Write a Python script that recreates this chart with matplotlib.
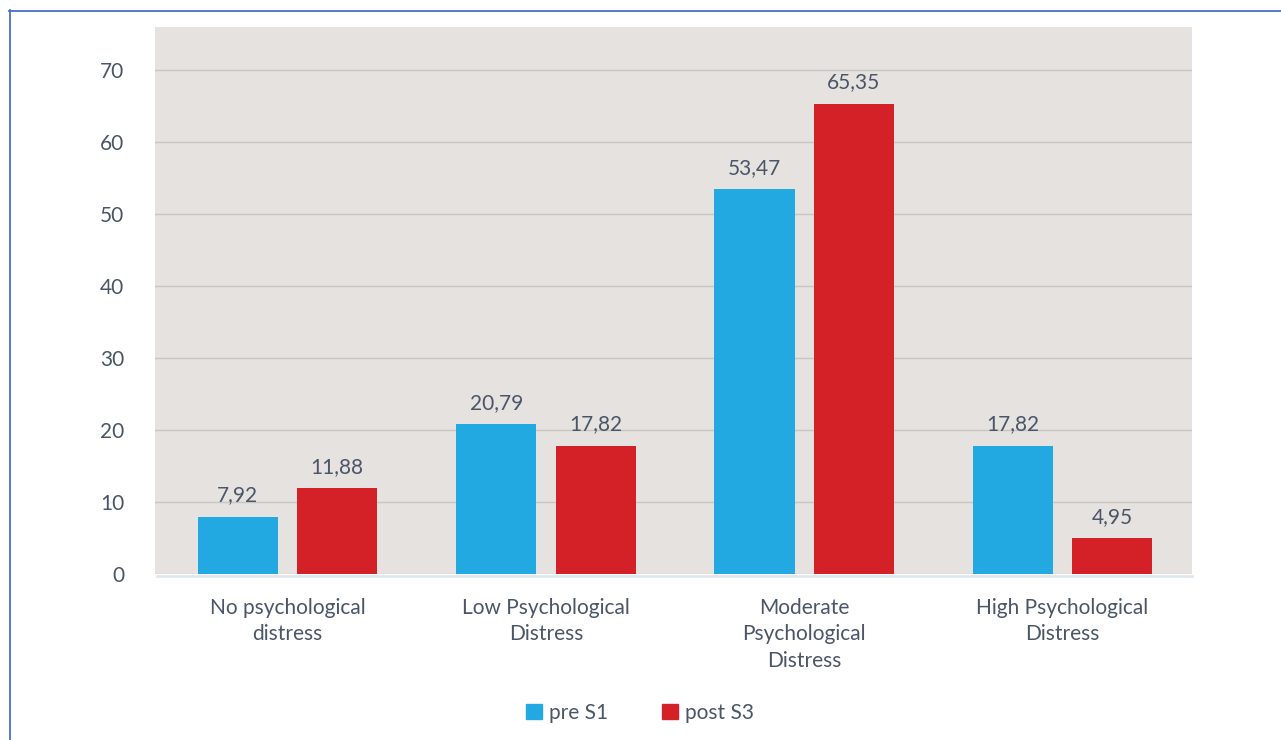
import numpy as np
import matplotlib.pyplot as plt
from matplotlib.lines import Line2D
from matplotlib.patches import Patch

categories = ["No psychological\ndistress", "Low Psychological\nDistress",
              "Moderate\nPsychological\nDistress", "High Psychological\nDistress"]
pre_s1 = [7.92, 20.79, 53.47, 17.82]
post_s3 = [11.88, 17.82, 65.35, 4.95]
series_names = ["pre S1", "post S3"]

blue = "#22a9e1"
red = "#d42027"
txt = "#4a5568"

plt.rcParams['font.family'] = ['Lato', 'DejaVu Sans']

fig = plt.figure(figsize=(12.81, 7.40), dpi=100)
ax = fig.add_axes([155/1281, 1 - 574/740, 1037/1281, 547/740])
ax.set_facecolor("#e6e2df")

x = np.arange(len(categories))
w = 0.31
gap = 0.075
b1 = ax.bar(x - (w + gap)/2, pre_s1, w, color=blue, zorder=3)
b2 = ax.bar(x + (w + gap)/2, post_s3, w, color=red, zorder=3)

def fmt(v):
    return f"{v:.2f}".replace(".", ",")

for bars, vals in ((b1, pre_s1), (b2, post_s3)):
    for r, v in zip(bars, vals):
        ax.text(r.get_x() + r.get_width()/2, v + 1.6, fmt(v), ha="center",
                va="bottom", fontsize=15, color=txt)

ax.set_xlim(-0.513, 3.501)
ax.set_ylim(0, 76)
ax.set_yticks(range(0, 80, 10))
ax.yaxis.grid(True, color="#cbc5c2", linewidth=1, zorder=0)
ax.set_axisbelow(True)
for s in ax.spines.values():
    s.set_visible(False)
ax.tick_params(axis="y", length=0, pad=22, labelsize=15, labelcolor=txt)
ax.tick_params(axis="x", length=0, pad=17, labelsize=15, labelcolor=txt)
ax.set_xticks(x)
ax.set_xticklabels(categories, linespacing=1.43)

# light baseline under the bars
fig.add_artist(Line2D([157/1281, 1192/1281], [1 - 576/740] * 2,
                      color="#e1e7ee", linewidth=2))

# frame lines along the top and left
fig.add_artist(Line2D([9/1281, 1], [1 - 10.5/740] * 2, color="#4a6fc0", linewidth=1.3))
fig.add_artist(Line2D([9.5/1281] * 2, [0, 1 - 10/740], color="#4a6fc0", linewidth=1.3))

handles = [Patch(color=blue), Patch(color=red)]
fig.legend(handles, series_names, loc="center", bbox_to_anchor=(640/1281, 1 - 713/740),
           ncol=2, frameon=False, fontsize=15, labelcolor=txt, handlelength=0.75,
           handleheight=0.75, handletextpad=0.35, columnspacing=2.6)

fig.savefig("out.png", dpi=100)
